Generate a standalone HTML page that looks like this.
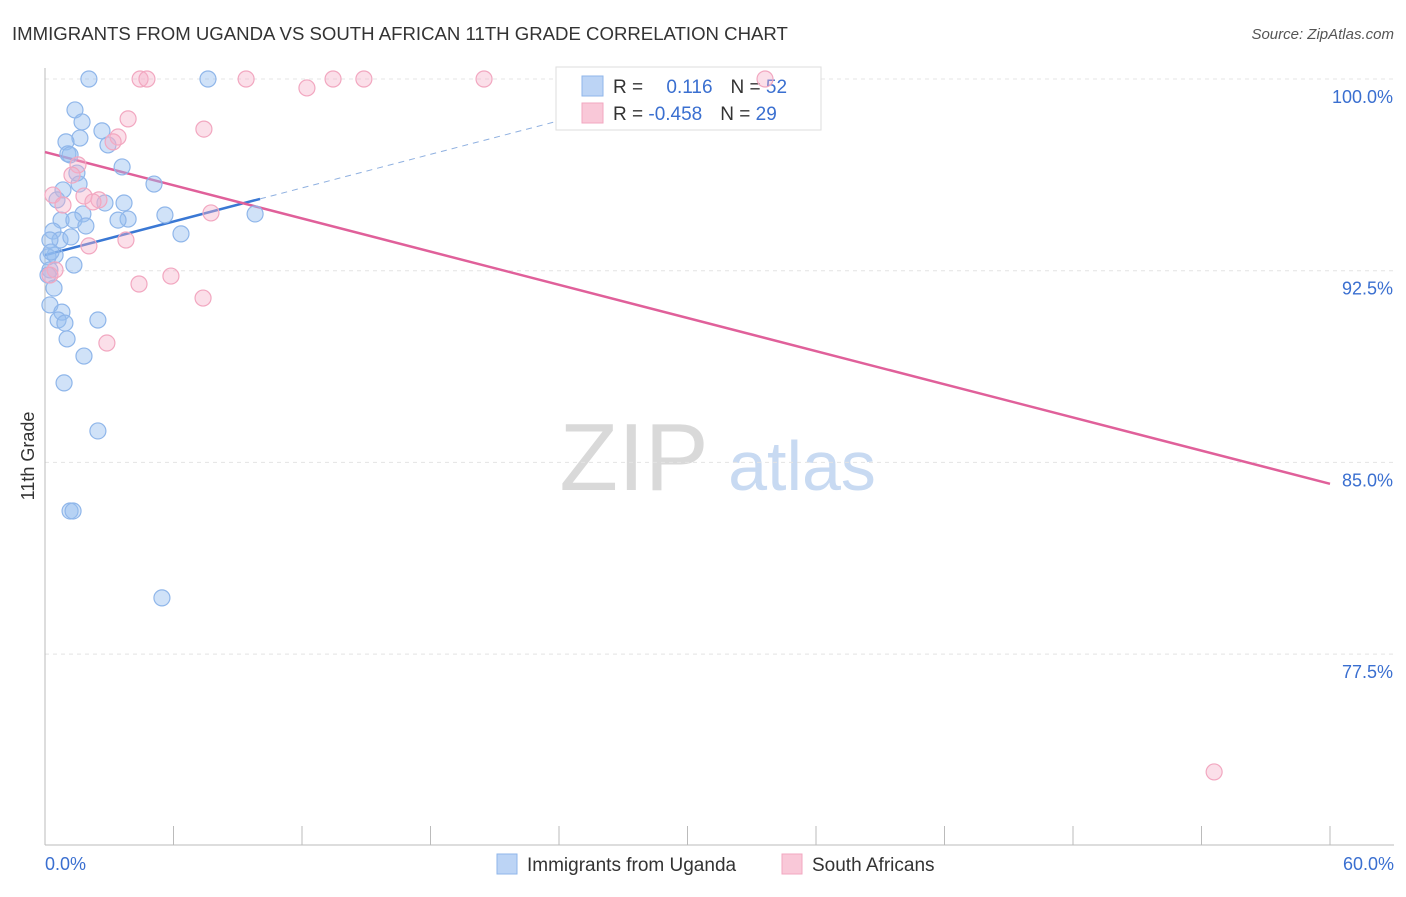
<!DOCTYPE html>
<html><head><meta charset="utf-8"><style>
body{margin:0;background:#fff;font-family:"Liberation Sans",sans-serif;}
svg text{font-family:"Liberation Sans",sans-serif;}
</style></head><body>
<svg id="chart" width="1406" height="892">
<text x="12" y="40" font-size="18.6" fill="#333">IMMIGRANTS FROM UGANDA VS SOUTH AFRICAN 11TH GRADE CORRELATION CHART</text>
<text x="1394" y="39" font-size="15" fill="#555" font-style="italic" text-anchor="end">Source: ZipAtlas.com</text>
<text transform="translate(34,456) rotate(-90)" font-size="18" fill="#333" text-anchor="middle">11th Grade</text>
<g>
<text x="634" y="490" font-size="96" fill="#d9d9d9" text-anchor="middle" font-family="Liberation Serif,serif">ZIP</text>
<text x="802" y="490" font-size="70" fill="#c8daf2" text-anchor="middle">atlas</text>
</g>
<g id="grid"></g><g id="axes"></g><g id="lines"></g>
<g>
<rect x="556" y="67" width="265" height="63" fill="#fff" stroke="#ddd"/>
<rect x="582" y="76" width="21" height="20" fill="#bcd4f5" stroke="#8fb6ea"/>
<rect x="582" y="103" width="21" height="20" fill="#f9c8d8" stroke="#f2a7c0"/>
<text x="613" y="93" font-size="19" fill="#333">R = <tspan fill="#3a6fd0" dx="18">0.116</tspan><tspan fill="#333" dx="18">N = </tspan><tspan fill="#3a6fd0">52</tspan></text>
<text x="613" y="120" font-size="19" fill="#333">R = <tspan fill="#3a6fd0">-0.458</tspan><tspan fill="#333" dx="18">N = </tspan><tspan fill="#3a6fd0">29</tspan></text>
</g>
<g id="pts"></g>
<g>
<rect x="497" y="854" width="20" height="20" fill="#bcd4f5" stroke="#8fb6ea"/>
<text x="527" y="871" font-size="19" fill="#333">Immigrants from Uganda</text>
<rect x="782" y="854" width="20" height="20" fill="#f9c8d8" stroke="#f2a7c0"/>
<text x="812" y="871" font-size="19" fill="#333">South Africans</text>
</g>
</svg>
<script>
const yTicks=[100,92.5,85,77.5];
const yTickLabels=["100.0%","92.5%","85.0%","77.5%"];
const xTicks=[0,6,12,18,24,30,36,42,48,54,60];
const blueX=[2.05,7.61,1.40,1.73,2.66,1.63,0.98,2.94,1.07,1.17,3.60,1.49,5.09,1.59,0.84,0.56,2.80,3.69,1.77,5.60,0.75,1.35,3.88,3.41,1.91,6.35,9.81,0.37,0.70,1.21,0.23,0.47,0.14,0.28,1.35,0.23,0.14,0.42,0.23,0.79,0.61,0.93,2.47,1.03,1.82,0.89,2.47,1.17,1.31,5.46];
const blueY=[100,100,98.79,98.32,97.97,97.69,97.54,97.42,97.07,97.03,96.56,96.32,95.89,95.89,95.66,95.27,95.15,95.15,94.72,94.68,94.48,94.48,94.52,94.48,94.25,93.94,94.72,94.05,93.70,93.82,93.70,93.11,93.04,93.23,92.72,92.53,92.33,91.82,91.16,90.88,90.57,90.45,90.57,89.83,89.16,88.11,86.23,83.10,83.10,79.70];
const pinkX=[4.44,4.76,9.39,13.45,14.89,20.50,33.62,12.23,3.88,7.42,3.41,3.18,1.54,1.26,0.37,1.82,2.52,2.24,0.84,7.75,2.05,3.78,5.88,4.39,7.38,0.47,0.23,2.89,54.59];
const pinkY=[100,100,100,100,100,100,100,99.65,98.44,98.04,97.73,97.54,96.64,96.24,95.46,95.42,95.27,95.19,95.07,94.76,93.47,93.70,92.29,91.98,91.43,92.53,92.33,89.67,72.89];
const blueTrend=[93.11,0.219];
const blueSolidEnd=10.04;
const pinkTrend=[97.14,-0.2163];
const NS="http://www.w3.org/2000/svg";
const sx=v=>45+v/60*1285, sy=v=>79+(100-v)*25.56;
function mk(t,a,p){const e=document.createElementNS(NS,t);for(const k in a)e.setAttribute(k,a[k]);document.getElementById(p).appendChild(e);return e;}
yTicks.forEach((t,i)=>{
 const l=mk('line',{x1:45,x2:1394,y1:sy(t),y2:sy(t),stroke:'#e4e4e4','stroke-dasharray':'4,4'},'grid');
 
 
 const tx=mk('text',{x:1393,y:sy(t)+24,'font-size':18,fill:'#3a6fd0','text-anchor':'end'},'axes');
 tx.textContent=yTickLabels[i];
 
 
});
const ax=mk('line',{x1:45,x2:45,y1:68,y2:845,stroke:'#bbb'},'axes');


const bx=mk('line',{x1:45,x2:1394,y1:845,y2:845,stroke:'#bbb'},'axes');


xTicks.forEach(t=>{
 const l=mk('line',{x1:sx(t),x2:sx(t),y1:826,y2:845,stroke:'#bbb'},'axes');
 
 
});
[[0,"0.0%","start",45],[60,"60.0%","end",1394]].forEach(a=>{
 const tx=mk('text',{x:a[3],y:870,'font-size':18,fill:'#3a6fd0','text-anchor':a[2]},'axes');
 tx.textContent=a[1];
 
 
});
blueX.forEach((x,i)=>{
 const c=mk('circle',{cx:sx(x),cy:sy(blueY[i]),r:8,fill:'rgba(150,190,240,0.45)',stroke:'#8fb6ea','stroke-width':1.2},'pts');
 
 
});
pinkX.forEach((x,i)=>{
 const c=mk('circle',{cx:sx(x),cy:sy(pinkY[i]),r:8,fill:'rgba(245,175,200,0.4)',stroke:'#f2a7c0','stroke-width':1.2},'pts');
 
 
});
const bEnd=(100-blueTrend[0])/blueTrend[1];
const d=mk('line',{x1:sx(blueSolidEnd),y1:sy(blueTrend[0]+blueTrend[1]*blueSolidEnd),x2:sx(bEnd),y2:sy(100),stroke:'#8fb0e0','stroke-dasharray':'6,5','stroke-width':1},'lines');


const b=mk('line',{x1:sx(0),y1:sy(blueTrend[0]),x2:sx(blueSolidEnd),y2:sy(blueTrend[0]+blueTrend[1]*blueSolidEnd),stroke:'#3a78d4','stroke-width':2.5},'lines');


const p=mk('line',{x1:sx(0),y1:sy(pinkTrend[0]),x2:sx(60),y2:sy(pinkTrend[0]+pinkTrend[1]*60),stroke:'#e0609a','stroke-width':2.5},'lines');


</script>
</body></html>
